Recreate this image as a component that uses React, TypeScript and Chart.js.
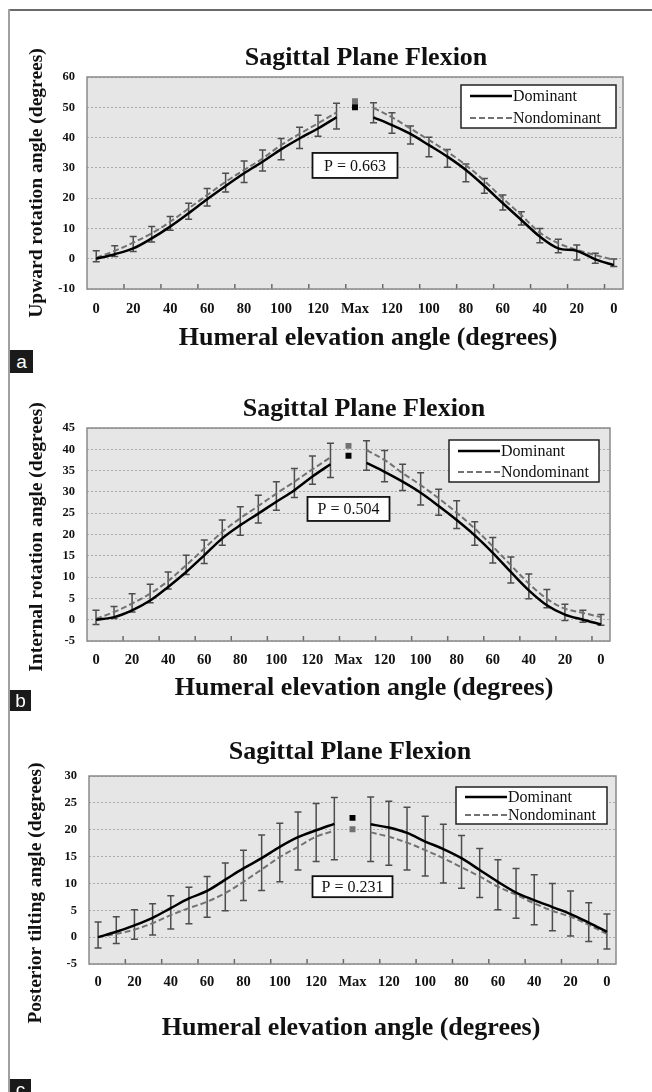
import React, { useEffect, useRef } from 'react';
import { Chart, registerables } from 'chart.js';

Chart.register(...registerables);

const SERIF = '"Liberation Serif", "Times New Roman", Times, serif';
const SANS = '"Liberation Sans", Arial, sans-serif';

// ---------- shared categories / labels ----------
const ANGLES = ['0', '10', '20', '30', '40', '50', '60', '70', '80', '90', '100', '110', '120', '130'];
const MAX_LABEL = 'Max';
const CATEGORIES = [...ANGLES, MAX_LABEL, ...ANGLES.slice().reverse()];
const MAX_INDEX = ANGLES.length;
const SERIES_NAMES = ['Dominant', 'Nondominant'];
const CHART_TITLE = 'Sagittal Plane Flexion';
const X_TITLE = 'Humeral elevation angle (degrees)';

// ---------- panel a ----------
const A_Y_TITLE = 'Upward rotation angle (degrees)';
const A_Y_RANGE = [-10, 60, 10];
const A_DOM_RISE = [0, 1.5, 3.4, 6.7, 10.6, 15, 19.6, 24, 28.2, 32, 36.1, 39.7, 43, 46.7];
const A_DOM_MAX = 50;
const A_DOM_FALL = [46.7, 44.1, 41.2, 37.5, 33.7, 29.3, 24, 18.3, 12.8, 7.3, 3.4, 2.6, -0.2, -2.1];
const A_NON_RISE = [0.3, 2.6, 5.3, 8.4, 12.2, 16.6, 21, 25.4, 29.3, 33.1, 37.5, 41.2, 44.7, 48.3];
const A_NON_MAX = 52;
const A_NON_FALL = [49.8, 46.7, 43, 39.2, 35.3, 30.9, 25.7, 19.9, 14.4, 8.6, 5.1, 2.9, 1.2, -0.4];
const A_DOM_SD_RISE = [1.0, 0.8, 1.0, 1.2, 1.2, 2.0, 2.2, 2.0, 3.0, 3.0, 3.4, 3.3, 2.6, 3.9];
const A_DOM_SD_FALL = [1.8, 2.7, 3.3, 3.8, 3.5, 3.9, 2.4, 2.2, 1.7, 2.0, 1.4, 3.0, 1.3, 0.5];
const A_NON_SD_RISE = [2.3, 1.7, 2.0, 2.2, 1.7, 1.7, 2.2, 2.8, 3.0, 2.8, 2.2, 2.2, 2.7, 3.0];
const A_NON_SD_FALL = [1.7, 1.5, 0.8, 0.9, 0.8, 0.4, 0.8, 1.1, 1.1, 1.4, 1.3, 1.6, 0.6, 0.3];
const A_P_TEXT = 'P = 0.663';
const A_P_AT = 30.8;

// ---------- panel b ----------
const B_Y_TITLE = 'Internal rotation angle (degrees)';
const B_Y_RANGE = [-5, 45, 5];
const B_DOM_RISE = [0, 0.6, 2.2, 4.5, 7.7, 11.2, 15.1, 19.1, 22.2, 24.9, 27.7, 30.4, 33.6, 36.5];
const B_DOM_MAX = 38.5;
const B_DOM_FALL = [36.8, 34.7, 32.4, 29.8, 26.7, 23.4, 19.8, 15.7, 11.2, 6.9, 3.4, 1.2, 0, -1.1];
const B_NON_RISE = [0.2, 1.8, 3.8, 6.1, 9.1, 12.8, 16.7, 20.6, 23.8, 26.7, 29.6, 32.4, 35.3, 38.1];
const B_NON_MAX = 40.8;
const B_NON_FALL = [39.8, 37.5, 34.4, 31.6, 28.5, 25.1, 21.4, 17.2, 12.8, 8.5, 4.9, 2.6, 1.6, 0.6];
const B_DOM_SD_RISE = [1.1, 0.3, 0.4, 0.5, 0.5, 0.6, 1.9, 1.6, 2.4, 2.2, 2.0, 1.7, 1.8, 3.1];
const B_DOM_SD_FALL = [1.7, 2.3, 2.1, 2.9, 2.2, 2.0, 2.3, 2.4, 2.6, 2.0, 0.6, 1.4, 0.6, 0.2];
const B_NON_SD_RISE = [2.0, 1.3, 2.3, 2.2, 2.1, 2.3, 2.0, 2.8, 2.7, 2.5, 2.8, 3.1, 3.1, 3.3];
const B_NON_SD_FALL = [2.2, 2.2, 2.1, 2.9, 2.1, 2.8, 1.6, 2.1, 1.9, 2.2, 2.2, 1.0, 0.6, 0.6];
const B_P_TEXT = 'P = 0.504';
const B_P_AT = 26;

// ---------- panel c ----------
const C_Y_TITLE = 'Posterior tilting angle (degrees)';
const C_Y_RANGE = [-5, 30, 5];
const C_DOM_RISE = [0, 1.0, 2.2, 3.6, 5.4, 7.2, 8.6, 10.7, 12.8, 14.7, 16.8, 18.6, 19.9, 21.1];
const C_DOM_MAX = 22.2;
const C_DOM_FALL = [21.0, 20.4, 19.4, 17.8, 16.4, 14.7, 12.5, 10.3, 8.3, 6.9, 5.6, 4.3, 2.7, 1.0];
const C_NON_RISE = [0, 0.6, 1.4, 2.6, 4.1, 5.4, 6.6, 8.2, 10.3, 12.6, 14.9, 16.8, 18.7, 19.8];
const C_NON_MAX = 20.1;
const C_NON_FALL = [19.5, 18.7, 17.6, 16.2, 14.7, 13.0, 11.3, 9.4, 7.9, 6.3, 4.9, 3.8, 2.3, 0.6];
const C_DOM_SD_RISE = [2.8, 2.8, 2.9, 2.6, 2.3, 2.1, 2.7, 3.1, 3.4, 4.3, 4.4, 4.7, 5.0, 4.9];
const C_DOM_SD_FALL = [5.1, 4.9, 4.8, 4.7, 4.6, 4.2, 4.0, 4.1, 4.5, 4.7, 4.4, 4.3, 3.7, 3.3];
const C_NON_SD_RISE = [2.0, 1.8, 1.8, 2.2, 2.6, 2.9, 2.9, 3.3, 3.5, 3.9, 4.6, 4.3, 4.6, 5.4];
const C_NON_SD_FALL = [5.4, 5.3, 5.1, 4.8, 4.6, 3.9, 3.9, 4.3, 4.4, 4.0, 3.7, 3.6, 3.1, 2.8];
const C_P_TEXT = 'P = 0.231';
const C_P_AT = 9.4;

const joinSeries = (rise: number[], max: number | null, fall: number[]) => [...rise, max, ...fall];
const onlyMax = (max: number) => CATEGORIES.map((_, i) => (i === MAX_INDEX ? max : null));

type Panel = {
  label: string;
  top: number;
  height: number;
  area: { left: number; top: number; right: number; bottom: number };
  yRange: number[];
  yTitle: string;
  dom: (number | null)[];
  non: (number | null)[];
  domSD: (number | null)[];
  nonSD: (number | null)[];
  domMax: number;
  nonMax: number;
  upper: 'dom' | 'non';
  pText: string;
  pAt: number;
  pBox: [number, number];
  titlePos: [number, number];
  xTitlePos: [number, number];
  yTitlePos: [number, number];
  xTickPad: number;
  legend: { inset: [number, number]; size: [number, number]; rows: [number, number] };
  tag: { top: number; size: number };
};

const PANELS: Panel[] = [
  {
    label: 'a', top: 14, height: 340,
    area: { left: 87, top: 63, right: 623, bottom: 275 },
    yRange: A_Y_RANGE, yTitle: A_Y_TITLE,
    dom: joinSeries(A_DOM_RISE, null, A_DOM_FALL), non: joinSeries(A_NON_RISE, null, A_NON_FALL),
    domSD: joinSeries(A_DOM_SD_RISE, null, A_DOM_SD_FALL), nonSD: joinSeries(A_NON_SD_RISE, null, A_NON_SD_FALL),
    domMax: A_DOM_MAX, nonMax: A_NON_MAX, upper: 'non',
    pText: A_P_TEXT, pAt: A_P_AT, pBox: [85, 25],
    titlePos: [366, 44], xTitlePos: [368, 324], yTitlePos: [37, 169], xTickPad: 12,
    legend: { inset: [7, 8], size: [155, 43], rows: [11, 33] },
    tag: { top: 350, size: 23 },
  },
  {
    label: 'b', top: 375, height: 331,
    area: { left: 87, top: 53, right: 610, bottom: 266 },
    yRange: B_Y_RANGE, yTitle: B_Y_TITLE,
    dom: joinSeries(B_DOM_RISE, null, B_DOM_FALL), non: joinSeries(B_NON_RISE, null, B_NON_FALL),
    domSD: joinSeries(B_DOM_SD_RISE, null, B_DOM_SD_FALL), nonSD: joinSeries(B_NON_SD_RISE, null, B_NON_SD_FALL),
    domMax: B_DOM_MAX, nonMax: B_NON_MAX, upper: 'non',
    pText: B_P_TEXT, pAt: B_P_AT, pBox: [82, 24],
    titlePos: [364, 34], xTitlePos: [364, 313], yTitlePos: [37, 162], xTickPad: 11,
    legend: { inset: [11, 12], size: [150, 42], rows: [11, 32] },
    tag: { top: 690, size: 21 },
  },
  {
    label: 'c', top: 722, height: 370,
    area: { left: 89, top: 54, right: 616, bottom: 242 },
    yRange: C_Y_RANGE, yTitle: C_Y_TITLE,
    dom: joinSeries(C_DOM_RISE, null, C_DOM_FALL), non: joinSeries(C_NON_RISE, null, C_NON_FALL),
    domSD: joinSeries(C_DOM_SD_RISE, null, C_DOM_SD_FALL), nonSD: joinSeries(C_NON_SD_RISE, null, C_NON_SD_FALL),
    domMax: C_DOM_MAX, nonMax: C_NON_MAX, upper: 'dom',
    pText: C_P_TEXT, pAt: C_P_AT, pBox: [80, 21],
    titlePos: [350, 30], xTitlePos: [351, 306], yTitlePos: [36, 171], xTickPad: 10,
    legend: { inset: [9, 11], size: [151, 37], rows: [10, 28] },
    tag: { top: 1079, size: 21 },
  },
];

const DOM_COLOR = '#000000';
const NON_COLOR = '#727272';

function makeDecor(p: Panel) {
  return {
    id: 'panelDecor' + p.label,
    beforeDraw(chart: any) {
      const { ctx, chartArea: a } = chart;
      ctx.save();
      ctx.fillStyle = '#ffffff';
      ctx.fillRect(0, 0, chart.width, chart.height);
      ctx.fillStyle = '#e6e6e6';
      ctx.fillRect(a.left, a.top, a.right - a.left, a.bottom - a.top);
      ctx.restore();
    },
    beforeDatasetsDraw(chart: any) {
      const { ctx } = chart;
      const xs = chart.scales.x;
      const ys = chart.scales.y;
      const hi = p.upper === 'dom' ? p.dom : p.non;
      const hiSD = p.upper === 'dom' ? p.domSD : p.nonSD;
      const lo = p.upper === 'dom' ? p.non : p.dom;
      const loSD = p.upper === 'dom' ? p.nonSD : p.domSD;
      ctx.save();
      ctx.strokeStyle = '#4d4d4d';
      ctx.lineWidth = 1.5;
      for (let i = 0; i < CATEGORIES.length; i++) {
        if (hi[i] == null || lo[i] == null) continue;
        const x = xs.getPixelForValue(i);
        const yTop = ys.getPixelForValue((hi[i] as number) + (hiSD[i] as number));
        const yBot = ys.getPixelForValue((lo[i] as number) - (loSD[i] as number));
        ctx.beginPath();
        ctx.moveTo(x, yTop); ctx.lineTo(x, yBot);
        ctx.moveTo(x - 3.5, yTop); ctx.lineTo(x + 3.5, yTop);
        ctx.moveTo(x - 3.5, yBot); ctx.lineTo(x + 3.5, yBot);
        ctx.stroke();
      }
      ctx.restore();
    },
    afterDraw(chart: any) {
      const { ctx, chartArea: a } = chart;
      const xs = chart.scales.x;
      const ys = chart.scales.y;
      ctx.save();
      // inside tick marks on the category axis
      ctx.strokeStyle = '#6a6a6a';
      ctx.lineWidth = 1.5;
      for (let i = 2; i < CATEGORIES.length; i += 2) {
        const bx = (xs.getPixelForValue(i - 1) + xs.getPixelForValue(i)) / 2;
        ctx.beginPath();
        ctx.moveTo(bx, a.bottom);
        ctx.lineTo(bx, a.bottom - 5);
        ctx.stroke();
      }
      // plot border
      ctx.strokeStyle = '#8a8a8a';
      ctx.lineWidth = 1.5;
      ctx.strokeRect(a.left, a.top, a.right - a.left, a.bottom - a.top);

      // legend
      const [lw, lh] = p.legend.size;
      const lx = a.right - p.legend.inset[0] - lw;
      const ly = a.top + p.legend.inset[1];
      ctx.fillStyle = '#ffffff';
      ctx.fillRect(lx, ly, lw, lh);
      ctx.strokeStyle = '#222222';
      ctx.lineWidth = 1.5;
      ctx.strokeRect(lx, ly, lw, lh);
      chart.data.datasets.slice(0, 2).forEach((ds: any, k: number) => {
        const ry = ly + p.legend.rows[k];
        ctx.strokeStyle = ds.borderColor;
        ctx.lineWidth = ds.borderWidth;
        ctx.setLineDash(ds.borderDash || []);
        ctx.beginPath();
        ctx.moveTo(lx + 9, ry);
        ctx.lineTo(lx + 51, ry);
        ctx.stroke();
        ctx.setLineDash([]);
        ctx.fillStyle = '#111111';
        ctx.font = `16px ${SERIF}`;
        ctx.textAlign = 'left';
        ctx.textBaseline = 'middle';
        ctx.fillText(ds.label, lx + 52, ry + 1);
      });

      // P-value box at the Max category
      const [pw, ph] = p.pBox;
      const px = xs.getPixelForValue(MAX_INDEX);
      const py = ys.getPixelForValue(p.pAt);
      ctx.fillStyle = '#ffffff';
      ctx.fillRect(px - pw / 2, py - ph / 2, pw, ph);
      ctx.strokeStyle = '#111111';
      ctx.lineWidth = 1.8;
      ctx.strokeRect(px - pw / 2, py - ph / 2, pw, ph);
      ctx.fillStyle = '#111111';
      ctx.font = `16px ${SERIF}`;
      ctx.textAlign = 'center';
      ctx.textBaseline = 'middle';
      ctx.fillText(p.pText, px, py + 1);

      // titles
      ctx.fillStyle = '#111111';
      ctx.font = `bold 26px ${SERIF}`;
      ctx.fillText(CHART_TITLE, p.titlePos[0], p.titlePos[1]);
      ctx.font = `bold 26px ${SERIF}`;
      ctx.fillText(X_TITLE, p.xTitlePos[0], p.xTitlePos[1]);
      ctx.save();
      ctx.translate(p.yTitlePos[0], p.yTitlePos[1]);
      ctx.rotate(-Math.PI / 2);
      ctx.font = `bold 19.5px ${SERIF}`;
      ctx.fillText(p.yTitle, 0, 0);
      ctx.restore();
      ctx.restore();
    },
  };
}

function PanelChart({ p }: { p: Panel }) {
  const ref = useRef<HTMLCanvasElement>(null);
  useEffect(() => {
    const canvas = ref.current;
    if (!canvas) return;
    const chart = new Chart(canvas, {
      type: 'line',
      data: {
        labels: CATEGORIES,
        datasets: [
          {
            label: SERIES_NAMES[0], data: p.dom, borderColor: DOM_COLOR, backgroundColor: DOM_COLOR,
            borderWidth: 2.5, pointRadius: 0, tension: 0.35, spanGaps: false,
          },
          {
            label: SERIES_NAMES[1], data: p.non, borderColor: NON_COLOR, backgroundColor: NON_COLOR,
            borderWidth: 2, borderDash: [6, 3], pointRadius: 0, tension: 0.35, spanGaps: false,
          },
          {
            label: SERIES_NAMES[0] + ' max', data: onlyMax(p.domMax), showLine: false,
            pointStyle: 'rect', pointRadius: 4.2, backgroundColor: DOM_COLOR, borderWidth: 0,
          },
          {
            label: SERIES_NAMES[1] + ' max', data: onlyMax(p.nonMax), showLine: false,
            pointStyle: 'rect', pointRadius: 4.2, backgroundColor: NON_COLOR, borderWidth: 0,
          },
        ],
      } as any,
      options: {
        responsive: false,
        animation: false,
        devicePixelRatio: 1,
        layout: { padding: { left: 0, top: p.area.top, right: 652 - p.area.right, bottom: 0 } },
        plugins: { legend: { display: false }, title: { display: false }, tooltip: { enabled: false } },
        scales: {
          x: {
            type: 'category',
            offset: true,
            grid: { display: false, drawTicks: false },
            border: { display: false },
            ticks: {
              autoSkip: false, maxRotation: 0, minRotation: 0, padding: p.xTickPad,
              color: '#111111', font: { family: SERIF, size: 14.5, weight: 'bold' },
              callback: function (this: any, value: any, index: number) {
                return index % 2 === 0 ? CATEGORIES[index] : '';
              },
            },
            afterFit: (s: any) => { s.height = p.height - p.area.bottom; },
          },
          y: {
            min: p.yRange[0], max: p.yRange[1],
            grid: { color: '#ababab', lineWidth: 1, drawTicks: false },
            border: { display: false, dash: [2, 2] },
            ticks: {
              stepSize: p.yRange[2], padding: 12, color: '#111111',
              font: { family: SERIF, size: 12.5, weight: 'bold' },
            },
            afterFit: (s: any) => { s.width = p.area.left; },
          },
        },
      } as any,
      plugins: [makeDecor(p)],
    });
    return () => chart.destroy();
  }, [p]);
  return (
    <canvas
      ref={ref}
      width={652}
      height={p.height}
      style={{ position: 'absolute', left: 0, top: p.top, width: 652, height: p.height, display: 'block' }}
    />
  );
}

export default function App() {
  return (
    <div style={{ position: 'absolute', left: 0, top: 0, width: 652, height: 1092, overflow: 'hidden', background: '#ffffff' }}>
      {PANELS.map((p) => (
        <PanelChart key={p.label} p={p} />
      ))}
      <div style={{ position: 'absolute', left: 8, top: 9, width: 644, height: 0, borderTop: '2px solid #6a6a6a' }} />
      <div style={{ position: 'absolute', left: 8, top: 9, width: 0, height: 1083, borderLeft: '2px solid #a0a0a0' }} />
      {PANELS.map((p) => (
        <div
          key={'tag' + p.label}
          style={{
            position: 'absolute', left: 10, top: p.tag.top, width: p.tag.size, height: p.tag.size,
            background: '#1a1a1a', color: '#ffffff', fontFamily: SANS, fontSize: 19,
            lineHeight: p.tag.size + 'px', textAlign: 'center',
          }}
        >
          {p.label}
        </div>
      ))}
    </div>
  );
}
